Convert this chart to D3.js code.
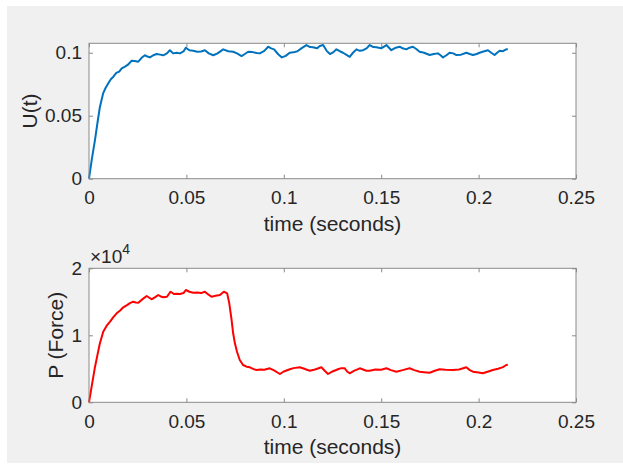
<!DOCTYPE html>
<html>
<head>
<meta charset="utf-8">
<script src="https://cdn.jsdelivr.net/npm/d3@7"></script>
<style>
    html, body { margin: 0; padding: 0; background: #fff; }
    svg text { font-family: "Liberation Sans", Arial, Helvetica, sans-serif; fill: #262626; }
</style>
</head>
<body>
<div id="chart"></div>
<script>
// U(t) - top panel
const timeU = [0, 0.0015, 0.0031, 0.0045, 0.0056, 0.0073, 0.0085, 0.0099, 0.0112, 0.0125, 0.014, 0.0155, 0.0168, 0.0185, 0.02, 0.0219, 0.0235, 0.0253, 0.027, 0.0287, 0.03, 0.0313, 0.033, 0.0347, 0.0365, 0.0381, 0.04, 0.0415, 0.0432, 0.045, 0.0467, 0.0485, 0.0497, 0.0515, 0.0535, 0.0555, 0.0575, 0.0595, 0.0615, 0.0638, 0.066, 0.0689, 0.0715, 0.074, 0.076, 0.0783, 0.08, 0.0817, 0.084, 0.086, 0.0877, 0.09, 0.092, 0.0935, 0.095, 0.097, 0.099, 0.101, 0.103, 0.105, 0.107, 0.109, 0.1116, 0.1135, 0.115, 0.117, 0.1185, 0.1202, 0.122, 0.1237, 0.1255, 0.127, 0.129, 0.1304, 0.132, 0.1338, 0.1355, 0.1373, 0.139, 0.1407, 0.1425, 0.1441, 0.146, 0.1475, 0.15, 0.1527, 0.154, 0.1552, 0.1575, 0.1595, 0.161, 0.1629, 0.1645, 0.1663, 0.168, 0.1697, 0.172, 0.1749, 0.177, 0.1791, 0.1805, 0.1817, 0.1835, 0.1851, 0.187, 0.1886, 0.191, 0.1937, 0.1955, 0.1971, 0.199, 0.2005, 0.2025, 0.2048, 0.2065, 0.2082, 0.2095, 0.2108, 0.2125, 0.2142, 0.215];
const valuesU = [0, 0.016, 0.031, 0.046, 0.057, 0.068, 0.072, 0.0757, 0.079, 0.081, 0.084, 0.085, 0.0876, 0.089, 0.0905, 0.0937, 0.0935, 0.0929, 0.096, 0.098, 0.097, 0.0963, 0.098, 0.099, 0.0985, 0.098, 0.0995, 0.102, 0.0995, 0.1, 0.0995, 0.101, 0.104, 0.102, 0.1016, 0.1008, 0.101, 0.102, 0.0995, 0.098, 0.0995, 0.1027, 0.1012, 0.1008, 0.0995, 0.0974, 0.099, 0.1008, 0.1005, 0.0998, 0.0995, 0.1015, 0.1048, 0.1035, 0.1027, 0.099, 0.0963, 0.0975, 0.1, 0.1003, 0.1012, 0.1035, 0.1061, 0.1045, 0.1043, 0.1035, 0.1053, 0.1061, 0.1015, 0.099, 0.1005, 0.1027, 0.101, 0.1, 0.0985, 0.0968, 0.1, 0.1027, 0.1015, 0.102, 0.1035, 0.1061, 0.1045, 0.1043, 0.1035, 0.1061, 0.104, 0.102, 0.104, 0.1048, 0.1035, 0.1027, 0.104, 0.1048, 0.103, 0.1008, 0.1, 0.0982, 0.099, 0.0995, 0.098, 0.0963, 0.098, 0.1, 0.0995, 0.0982, 0.0985, 0.1, 0.099, 0.0982, 0.099, 0.1, 0.101, 0.102, 0.1, 0.0982, 0.1, 0.1016, 0.1012, 0.1027, 0.1028];

// P (Force) - bottom panel
const timeP = [0, 0.0015, 0.0031, 0.0045, 0.0056, 0.0073, 0.009, 0.0108, 0.0125, 0.0142, 0.016, 0.0176, 0.0195, 0.021, 0.0227, 0.024, 0.0253, 0.0275, 0.0296, 0.031, 0.0321, 0.034, 0.0355, 0.0368, 0.0381, 0.04, 0.0419, 0.0436, 0.045, 0.0467, 0.0485, 0.0497, 0.0515, 0.0535, 0.0555, 0.0575, 0.0595, 0.0612, 0.0629, 0.065, 0.0672, 0.0692, 0.0709, 0.072, 0.0732, 0.074, 0.0749, 0.076, 0.0774, 0.0791, 0.0809, 0.0826, 0.0845, 0.086, 0.088, 0.09, 0.0928, 0.095, 0.098, 0.1, 0.1031, 0.105, 0.1082, 0.1105, 0.1133, 0.116, 0.1193, 0.121, 0.1227, 0.125, 0.1278, 0.1295, 0.1313, 0.1325, 0.1338, 0.136, 0.139, 0.1424, 0.1441, 0.147, 0.15, 0.1527, 0.155, 0.1578, 0.161, 0.1646, 0.167, 0.1697, 0.172, 0.1749, 0.1775, 0.18, 0.183, 0.1868, 0.19, 0.1937, 0.1955, 0.1971, 0.2, 0.2022, 0.205, 0.2073, 0.21, 0.2125, 0.2142, 0.215];
const valuesP = [0, 2600, 5313, 7300, 8806, 10537, 11400, 12030, 12700, 13284, 13700, 14179, 14500, 14800, 15015, 14900, 14866, 15400, 15866, 15600, 15373, 15700, 16015, 15800, 15672, 15750, 16507, 16164, 16200, 16164, 16300, 16761, 16500, 16358, 16400, 16300, 16507, 16100, 15761, 15900, 16015, 16507, 16268, 14800, 12284, 10300, 8806, 7500, 6313, 5567, 5313, 5224, 4950, 4821, 4900, 4850, 5075, 4750, 4224, 4600, 4925, 5100, 5224, 5000, 4716, 4900, 5224, 4700, 4224, 4600, 4925, 5100, 5075, 4600, 4328, 4700, 5075, 4716, 4716, 4900, 4850, 5075, 4800, 4567, 4800, 5075, 4800, 4567, 4500, 4418, 4700, 4925, 4850, 4821, 4900, 5224, 4800, 4567, 4450, 4328, 4600, 4821, 5000, 5250, 5567, 5600];

// ticks
const xTicks = [0, 0.05, 0.1, 0.15, 0.2, 0.25];
const yTicksU = [0, 0.05, 0.1];
const yTicksP = [0, 10000, 20000];

const width = 623, height = 466;

const svg = d3.select('#chart')
    .append('svg')
    .attr('width', width)
    .attr('height', height);

// figure background
svg.append('rect')
    .attr('x', 7).attr('y', 6)
    .attr('width', width - 7).attr('height', 457)
    .attr('fill', '#f0f0f0');

const x = d3.scaleLinear().domain([0, 0.25]).range([89, 576]);

function drawPanel(opts) {
    const y = opts.y;
    const g = svg.append('g');
    const [x0, x1] = x.range();
    const [yb, yt] = y.range();

    g.append('rect')
        .attr('x', x0).attr('y', yt)
        .attr('width', x1 - x0).attr('height', yb - yt)
        .attr('fill', '#fff');

    // axes (ticks point inward, box on)
    const styleAxis = sel => {
        sel.select('.domain').remove();
        sel.selectAll('line').attr('stroke', '#8a8a8a');
    };
    g.append('g').attr('transform', `translate(0,${yb})`)
        .call(d3.axisBottom(x).tickValues(xTicks).tickSize(-4).tickPadding(12).tickFormat(d => d === 0 ? '0' : String(d)))
        .call(styleAxis)
        .selectAll('text').style('font-size', '19px').attr('fill', '#262626');
    g.append('g').attr('transform', `translate(0,${yt})`)
        .call(d3.axisTop(x).tickValues(xTicks).tickSize(-4).tickFormat(''))
        .call(styleAxis);
    g.append('g').attr('transform', `translate(${x0},0)`)
        .call(d3.axisLeft(y).tickValues(opts.yTicks).tickSize(-4).tickPadding(7).tickFormat(opts.yFormat))
        .call(styleAxis)
        .selectAll('text').style('font-size', '19px').attr('fill', '#262626');
    g.append('g').attr('transform', `translate(${x1},0)`)
        .call(d3.axisRight(y).tickValues(opts.yTicks).tickSize(-4).tickFormat(''))
        .call(styleAxis);

    // line
    const line = d3.line()
        .x((d, i) => x(opts.t[i]))
        .y(d => y(d));
    g.append('path')
        .datum(opts.v)
        .attr('fill', 'none')
        .attr('stroke', opts.color)
        .attr('stroke-width', 2)
        .attr('stroke-linejoin', 'round')
        .attr('d', line);

    // box
    g.append('rect')
        .attr('x', x0).attr('y', yt)
        .attr('width', x1 - x0).attr('height', yb - yt)
        .attr('fill', 'none')
        .attr('stroke', '#8a8a8a')
        .attr('stroke-width', 1);

    // labels
    g.append('text')
        .attr('x', (x0 + x1) / 2).attr('y', yb + 52)
        .attr('text-anchor', 'middle')
        .style('font-size', '21px')
        .text('time (seconds)');
    g.append('text')
        .attr('transform', `translate(${opts.labelX},${(yb + yt) / 2}) rotate(-90)`)
        .attr('text-anchor', 'middle')
        .style('font-size', '21px')
        .text(opts.label);
    return g;
}

drawPanel({
    y: d3.scaleLinear().domain([0, 0.1075]).range([178.7, 43.3]),
    yTicks: yTicksU,
    yFormat: d => String(d),
    t: timeU, v: valuesU,
    color: '#0072bd',
    label: 'U(t)',
    labelX: 37
});

const bottom = drawPanel({
    y: d3.scaleLinear().domain([0, 20000]).range([402.3, 268.3]),
    yTicks: yTicksP,
    yFormat: d => String(d / 1e4),
    t: timeP, v: valuesP,
    color: '#ff0000',
    label: 'P (Force)',
    labelX: 63
});

// exponent label
const expo = bottom.append('text')
    .attr('x', 90).attr('y', 263)
    .style('font-size', '19px');
expo.append('tspan').text('\u00d710');
expo.append('tspan').attr('dy', -9).style('font-size', '14px').text('4');
</script>
</body>
</html>
